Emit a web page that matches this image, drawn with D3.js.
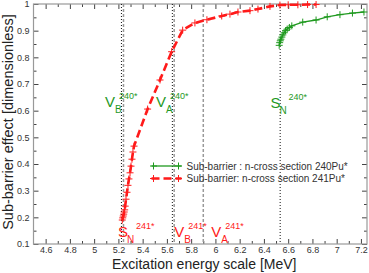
<!DOCTYPE html>
<html>
<head>
<meta charset="utf-8">
<script src="https://cdn.jsdelivr.net/npm/d3@7"></script>
<style>
  body { margin: 0; background: #fff; }
  svg { font-family: "Liberation Sans", Arial, sans-serif; display: block; }
</style>
</head>
<body>
<div id="chart"></div>
<script>
// data
var red241E = [5.232, 5.236, 5.24, 5.244, 5.248, 5.252, 5.256, 5.263, 5.271, 5.279, 5.287, 5.296, 5.304, 5.312, 5.32, 5.329,
  5.441, 5.543, 5.639, 5.73, 5.831, 5.93, 6.052, 6.12, 6.186, 6.285, 6.351, 6.45, 6.532, 6.6, 6.68, 6.76, 6.83];
var red241Y = [0.19, 0.198, 0.205, 0.212, 0.22, 0.228, 0.242, 0.268, 0.294, 0.32, 0.344, 0.367, 0.392, 0.418, 0.445, 0.467,
  0.606, 0.715, 0.821, 0.902, 0.929, 0.941, 0.955, 0.962, 0.97, 0.975, 0.981, 0.991, 0.996, 0.997, 0.997, 0.998, 0.998];

var green240E = [6.526, 6.53, 6.535, 6.54, 6.548, 6.556, 6.566, 6.578, 6.592, 6.61, 6.63, 6.72, 6.83, 6.922, 7.027, 7.13, 7.225];
var green240Y = [0.845, 0.855, 0.862, 0.868, 0.876, 0.884, 0.892, 0.9, 0.906, 0.912, 0.918, 0.932, 0.94, 0.952, 0.96, 0.966, 0.97];

// reference energies (MeV)
var dottedLines = [5.225, 5.645, 6.534];
var dashedLines = [5.242, 5.66, 5.9];

var xTicks = [4.6, 4.8, 5, 5.2, 5.4, 5.6, 5.8, 6, 6.2, 6.4, 6.6, 6.8, 7, 7.2];
var yTicks = [0.1, 0.2, 0.3, 0.4, 0.5, 0.6, 0.7, 0.8, 0.9, 1];

var legendNames = ["Sub-barrier : n-cross section 240Pu*", "Sub-barrier: n-cross section 241Pu*"];

var svgWidth = 369;
var svgHeight = 273;
var margin = { top: 4, right: 2, bottom: 29, left: 33.5 };
var width = svgWidth - margin.left - margin.right;
var height = svgHeight - margin.top - margin.bottom;

var green = "#1f991f";
var red = "#ff1a1a";

var svg = d3.select("#chart").append("svg")
  .attr("width", svgWidth)
  .attr("height", svgHeight);

var chartGroup = svg.append("g")
  .attr("transform", `translate(${margin.left}, ${margin.top})`);

var x = d3.scaleLinear().domain([4.5, 7.25]).range([0, width]);
var y = d3.scaleLinear().domain([0.1, 1]).range([height, 0]);

// minor ticks
var xMinor = d3.range(4.6, 7.25, 0.1).filter(v => Math.abs(Math.round(v * 5) - v * 5) > 0.01);
var yMinor = d3.range(0.15, 1, 0.1);

// axes, ticks pointing inside (also on top and right)
function styleAxis(g) {
  g.select(".domain").remove();
  g.selectAll(".tick line").attr("stroke", "#444");
  g.selectAll(".tick text").attr("fill", "#333").attr("font-size", 9);
}

chartGroup.append("g")
  .attr("transform", `translate(0, ${height})`)
  .call(d3.axisBottom(x).tickValues(xTicks).tickSizeInner(-5).tickSizeOuter(0).tickPadding(3).tickFormat(d3.format("")))
  .call(styleAxis);
chartGroup.append("g")
  .attr("transform", `translate(0, ${height})`)
  .call(d3.axisBottom(x).tickValues(xMinor).tickSize(-3).tickFormat(""))
  .call(styleAxis);
chartGroup.append("g")
  .call(d3.axisTop(x).tickValues(xTicks).tickSize(-5).tickFormat(""))
  .call(styleAxis);
chartGroup.append("g")
  .call(d3.axisTop(x).tickValues(xMinor).tickSize(-3).tickFormat(""))
  .call(styleAxis);

chartGroup.append("g")
  .call(d3.axisLeft(y).tickValues(yTicks).tickSizeInner(-5).tickSizeOuter(0).tickPadding(4).tickFormat(d3.format("")))
  .call(styleAxis);
chartGroup.append("g")
  .call(d3.axisLeft(y).tickValues(yMinor).tickSize(-3).tickFormat(""))
  .call(styleAxis);
chartGroup.append("g")
  .attr("transform", `translate(${width}, 0)`)
  .call(d3.axisRight(y).tickValues(yTicks).tickSize(-5).tickFormat(""))
  .call(styleAxis);
chartGroup.append("g")
  .attr("transform", `translate(${width}, 0)`)
  .call(d3.axisRight(y).tickValues(yMinor).tickSize(-3).tickFormat(""))
  .call(styleAxis);

// frame
chartGroup.append("rect")
  .attr("width", width)
  .attr("height", height)
  .attr("fill", "none")
  .attr("stroke", "#999")
  .attr("stroke-width", 1.2);

// reference lines
chartGroup.selectAll(".dotline")
  .data(dottedLines)
  .enter().append("line")
  .attr("x1", d => x(d)).attr("x2", d => x(d))
  .attr("y1", 0).attr("y2", height)
  .attr("stroke", "#111")
  .attr("stroke-width", 1)
  .attr("stroke-dasharray", "1,2");

chartGroup.selectAll(".dashline")
  .data(dashedLines)
  .enter().append("line")
  .attr("x1", d => x(d)).attr("x2", d => x(d))
  .attr("y1", 0).attr("y2", height)
  .attr("stroke", "#999")
  .attr("stroke-width", 1.5)
  .attr("stroke-dasharray", "3,2");

// series
var cross = "M-3.5,0H3.5M0,-3.5V3.5";
var redData = red241E.map((e, i) => [e, red241Y[i]]);
var greenData = green240E.map((e, i) => [e, green240Y[i]]);
var line = d3.line().x(d => x(d[0])).y(d => y(d[1]));

chartGroup.append("path")
  .datum(greenData)
  .attr("d", line)
  .attr("fill", "none")
  .attr("stroke", green)
  .attr("stroke-width", 1.3);
chartGroup.append("g").selectAll("path")
  .data(greenData)
  .enter().append("path")
  .attr("d", cross)
  .attr("transform", d => `translate(${x(d[0])}, ${y(d[1])})`)
  .attr("stroke", green)
  .attr("stroke-width", 1);

chartGroup.append("path")
  .datum(redData)
  .attr("d", line)
  .attr("fill", "none")
  .attr("stroke", red)
  .attr("stroke-width", 2.6)
  .attr("stroke-dasharray", "8,4");
chartGroup.append("g").selectAll("path")
  .data(redData)
  .enter().append("path")
  .attr("d", cross)
  .attr("transform", d => `translate(${x(d[0])}, ${y(d[1])})`)
  .attr("stroke", red)
  .attr("stroke-width", 1);

// barrier labels: [letter, subscript, superscript, energy anchor, colour, baseline px]
var labels = [
  ["V", "B", "240*", 5.09, green, 103],
  ["V", "A", "240*", 5.51, green, 103],
  ["S", "N", "240*", 6.455, green, 104],
  ["S", "N", "241*", 5.197, red, 232.5],
  ["V", "B", "241*", 5.66, red, 232.5],
  ["V", "A", "241*", 5.965, red, 232.5]
];
labels.forEach(function(l) {
  var lx = x(l[3]);
  var g = chartGroup.append("g").attr("fill", l[4]);
  g.append("text").attr("x", lx).attr("y", l[5]).attr("font-size", 15).text(l[0]);
  var w = l[0] === "V" ? 10 : 9;
  g.append("text").attr("x", lx + w).attr("y", l[5] + 6).attr("font-size", 10).text(l[1]);
  g.append("text").attr("x", lx + w + (l[0] === "V" ? 4 : 9)).attr("y", l[5] - 8).attr("font-size", 9).text(l[2]);
});

// legend
var legend = chartGroup.append("g").attr("transform", "translate(118, 162)");
legendNames.forEach(function(name, i) {
  var ly = i * 12.5;
  var col = i === 0 ? green : red;
  legend.append("line")
    .attr("x1", 0).attr("x2", 30)
    .attr("y1", ly).attr("y2", ly)
    .attr("stroke", col)
    .attr("stroke-width", i === 0 ? 1.3 : 2.6)
    .attr("stroke-dasharray", i === 0 ? null : "8,4");
  [2, 27].forEach(function(px) {
    legend.append("path").attr("d", cross)
      .attr("transform", `translate(${px}, ${ly})`)
      .attr("stroke", col).attr("stroke-width", 1);
  });
  legend.append("text")
    .attr("x", 35).attr("y", ly + 3.5)
    .attr("font-size", 10)
    .attr("fill", "#333")
    .text(name);
});

// axis titles
svg.append("text")
  .attr("transform", "rotate(-90)")
  .attr("x", -(margin.top + height / 2) + 2)
  .attr("y", 12.5)
  .attr("text-anchor", "middle")
  .attr("font-size", 14.5)
  .attr("fill", "#222")
  .text("Sub-barrier effect [dimensionless]");

svg.append("text")
  .attr("x", margin.left + width / 2 + 4)
  .attr("y", 268.5)
  .attr("text-anchor", "middle")
  .attr("font-size", 14)
  .attr("fill", "#222")
  .text("Excitation energy scale [MeV]");
</script>
</body>
</html>
